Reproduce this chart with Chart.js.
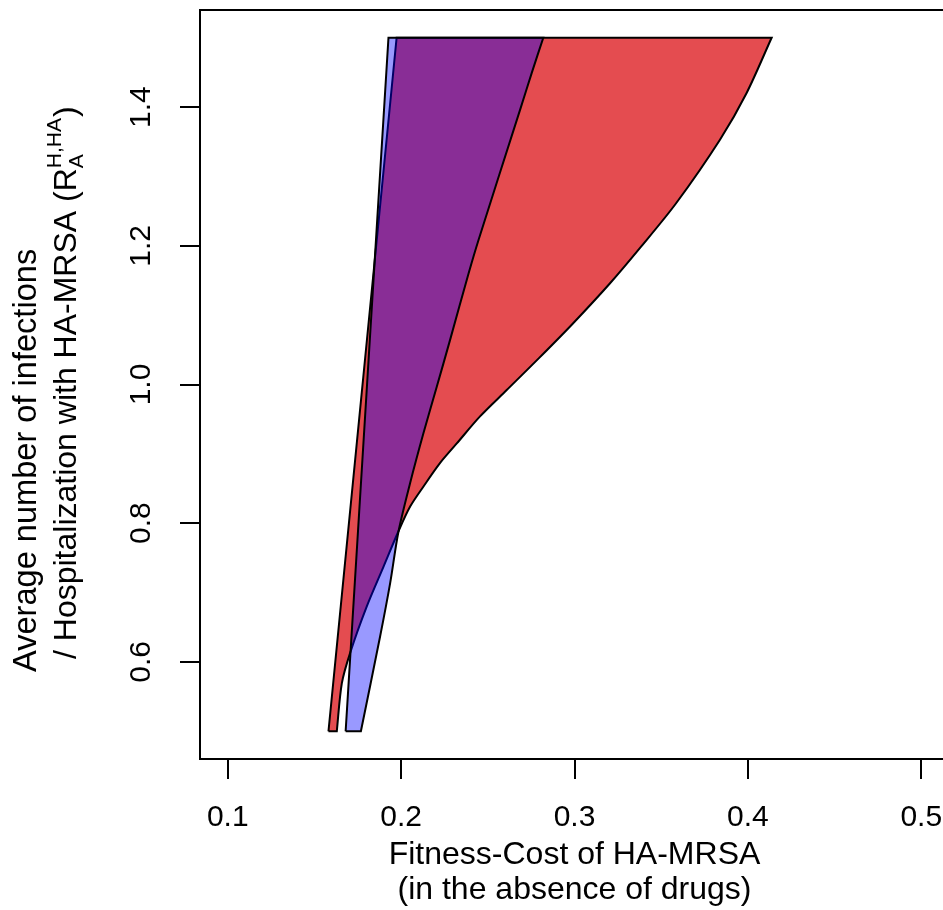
<!DOCTYPE html>
<html>
<head>
<meta charset="utf-8">
<script src="https://cdn.jsdelivr.net/npm/chart.js@4.4.1/dist/chart.umd.min.js"></script>
<style>
  html, body { margin: 0; padding: 0; background: #ffffff; overflow: hidden; }
  #wrap { width: 943px; height: 910px; overflow: hidden; position: relative; }
  canvas { display: block; }
</style>
</head>
<body>
<div id="wrap"><canvas id="chart" width="950" height="910"></canvas></div>
<script>
// ---- tick labels ----
const xTicks = [0.1, 0.2, 0.3, 0.4, 0.5];
const yTicks = [0.6, 0.8, 1.0, 1.2, 1.4];

// ---- axis titles ----
const xTitle = ['Fitness-Cost of HA-MRSA', '(in the absence of drugs)'];
const yTitleLine1 = 'Average number of infections';
const yTitleLine2 = '/ Hospitalization with HA-MRSA (';
const yTitleSymbol = 'R';
const yTitleSub = 'A';
const yTitleSup = 'H,HA';
const yTitleClose = ')';

// ---- red region boundaries ----
const redLeftY = [0.5, 1.5];
const redLeftX = [0.1581, 0.1974];
const redRightY = [0.5, 0.569, 0.613, 0.680, 0.737, 0.788, 0.824, 0.853, 0.887, 0.915, 0.954, 0.992, 1.038, 1.088, 1.146, 1.197, 1.261, 1.353, 1.420, 1.5];
const redRightX = [0.1629, 0.1658, 0.1706, 0.1802, 0.1898, 0.1984, 0.2052, 0.2129, 0.2225, 0.2321, 0.2455, 0.2609, 0.2795, 0.2991, 0.3205, 0.3378, 0.3585, 0.3839, 0.3992, 0.4137];

// ---- blue region boundaries ----
const blueLeftY = [0.5, 1.5];
const blueLeftX = [0.1680, 0.1927];
const blueRightY = [0.5, 0.637, 0.714, 0.787, 0.858, 0.930, 0.997, 1.064, 1.160, 1.208, 1.396, 1.449, 1.5];
const blueRightX = [0.1768, 0.1879, 0.1937, 0.1984, 0.2052, 0.2129, 0.2206, 0.2282, 0.2389, 0.2446, 0.2686, 0.2753, 0.2820];

const FONT = "'Liberation Sans', Arial, Helvetica, sans-serif";

// closed outline: left edge upwards, right edge downwards; corner points are
// repeated so the smoothed outline keeps sharp corners
function polygon(lx, ly, rx, ry) {
  const pts = [];
  const n = lx.length, m = rx.length;
  pts.push({ x: lx[0], y: ly[0] });
  for (let i = 0; i < n; i++) pts.push({ x: lx[i], y: ly[i] });
  pts.push({ x: lx[n - 1], y: ly[n - 1] });
  pts.push({ x: rx[m - 1], y: ry[m - 1] });
  for (let i = m - 1; i >= 0; i--) pts.push({ x: rx[i], y: ry[i] });
  pts.push({ x: rx[0], y: ry[0] });
  pts.push({ x: lx[0], y: ly[0] });
  return pts;
}

function setTicks(values) {
  return function (scale) { scale.ticks = values.map(v => ({ value: v })); };
}
function fixSize(prop, size) {
  return function (scale) {
    scale[prop] = size;
    scale.paddingTop = 0; scale.paddingBottom = 0;
    scale.paddingLeft = 0; scale.paddingRight = 0;
  };
}

const yTitlePlugin = {
  id: 'yTitle',
  afterDraw(chart) {
    const ctx = chart.ctx;
    const size = 32;
    const small = 21;
    ctx.save();
    ctx.fillStyle = '#000';
    ctx.textAlign = 'left';
    ctx.textBaseline = 'alphabetic';
    // line 1
    ctx.save();
    ctx.translate(36, 672);
    ctx.rotate(-Math.PI / 2);
    ctx.font = '32.6px ' + FONT;
    ctx.fillText(yTitleLine1, 0, 0);
    ctx.restore();
    // line 2
    ctx.save();
    ctx.translate(76, 659);
    ctx.rotate(-Math.PI / 2);
    ctx.font = size + 'px ' + FONT;
    ctx.fillText(yTitleLine2, 0, 0);
    let pos = ctx.measureText(yTitleLine2).width;
    ctx.fillText(yTitleSymbol, pos, 0);
    pos += ctx.measureText(yTitleSymbol).width;
    ctx.font = small + 'px ' + FONT;
    ctx.fillText(yTitleSub, pos, 7);
    ctx.fillText(yTitleSup, pos, -15);
    const wScript = Math.max(ctx.measureText(yTitleSub).width, ctx.measureText(yTitleSup).width);
    pos += wScript + 1;
    ctx.font = size + 'px ' + FONT;
    ctx.fillText(yTitleClose, pos, 0);
    ctx.restore();
    ctx.restore();
  }
};

new Chart(document.getElementById('chart'), {
  type: 'line',
  data: {
    datasets: [
      {
        label: 'red',
        data: polygon(redLeftX, redLeftY, redRightX, redRightY),
        order: 2,
        fill: 'shape',
        backgroundColor: 'rgb(228,76,80)',
        borderColor: '#000000',
        borderWidth: 2,
        pointRadius: 0,
        tension: 0.3
      },
      {
        label: 'blue',
        data: polygon(blueLeftX, blueLeftY, blueRightX, blueRightY),
        order: 1,
        fill: 'shape',
        backgroundColor: 'rgba(0,0,255,0.4)',
        borderColor: '#000000',
        borderWidth: 2,
        pointRadius: 0,
        tension: 0.3
      }
    ]
  },
  options: {
    responsive: false,
    animation: false,
    devicePixelRatio: 1,
    layout: { padding: { top: 10, left: 0, right: 1, bottom: 0 } },
    plugins: {
      legend: { display: false },
      tooltip: { enabled: false },
      filler: { propagate: false }
    },
    scales: {
      x: {
        type: 'linear',
        position: 'bottom',
        min: 0.084,
        max: 0.516,
        afterBuildTicks: setTicks(xTicks),
        afterFit: fixSize('height', 151),
        grid: { display: true, drawOnChartArea: false, drawTicks: true, tickLength: 20, color: '#000', lineWidth: 2 },
        border: { display: true, color: '#000', width: 2 },
        ticks: {
          autoSkip: false,
          color: '#000',
          padding: 21,
          font: { family: FONT, size: 30, lineHeight: 1.2 },
          callback: v => Number(v).toFixed(1)
        },
        title: {
          display: true,
          text: xTitle,
          color: '#000',
          font: { family: FONT, size: 32, lineHeight: 1.1 },
          padding: { top: 0, bottom: 2 }
        }
      },
      xTop: {
        type: 'linear',
        position: 'top',
        display: true,
        min: 0.084,
        max: 0.516,
        afterFit: fixSize('height', 0),
        grid: { display: false, drawTicks: false },
        border: { display: true, color: '#000', width: 2 },
        ticks: { display: false }
      },
      y: {
        type: 'linear',
        position: 'left',
        min: 0.46,
        max: 1.54,
        afterBuildTicks: setTicks(yTicks),
        afterFit: fixSize('width', 200),
        grid: { display: true, drawOnChartArea: false, drawTicks: true, tickLength: 20, color: '#000', lineWidth: 2 },
        border: { display: true, color: '#000', width: 2 },
        ticks: {
          autoSkip: false,
          color: '#000',
          padding: 17,
          minRotation: 90,
          maxRotation: 90,
          crossAlign: 'center',
          font: { family: FONT, size: 30, lineHeight: 1.2 },
          callback: v => Number(v).toFixed(1)
        }
      }
    }
  },
  plugins: [yTitlePlugin]
});
</script>
</body>
</html>
